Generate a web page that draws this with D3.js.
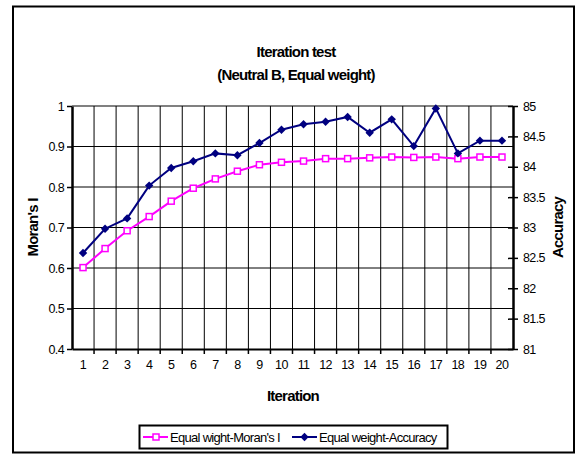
<!DOCTYPE html>
<html lang="en">
<head>
<meta charset="utf-8">
<title>Iteration test</title>
<script src="https://d3js.org/d3.v7.min.js"></script>
<style>
    body { margin: 0; padding: 0; background: white; }
    svg { display: block; font-family: "Liberation Sans", Arial, sans-serif; }
    .ttl { font-weight: bold; font-size: 15px; letter-spacing: -0.8px; }
    .tick-lbl { font-size: 12.5px; letter-spacing: -0.6px; }
</style>
</head>
<body>
<div id="chart"></div>
<script>
const iterations = [1, 2, 3, 4, 5, 6, 7, 8, 9, 10, 11, 12, 13, 14, 15, 16, 17, 18, 19, 20];
const moransI = [0.601, 0.648, 0.692, 0.727, 0.765, 0.797, 0.820, 0.839, 0.855, 0.861,
                 0.864, 0.870, 0.870, 0.872, 0.874, 0.873, 0.874, 0.870, 0.874, 0.874];
const accuracy = [82.58, 82.98, 83.15, 83.69, 83.98, 84.09, 84.22, 84.19, 84.39, 84.61,
                  84.70, 84.74, 84.82, 84.56, 84.78, 84.34, 84.96, 84.22, 84.43, 84.43];
const leftTicks = [0.4, 0.5, 0.6, 0.7, 0.8, 0.9, 1];
const rightTicks = [81, 81.5, 82, 82.5, 83, 83.5, 84, 84.5, 85];

const w = 578, h = 456;
const pLeft = 72, pRight = 513, pTop = 106, pBottom = 349;

const svg = d3.select("#chart").append("svg")
    .attr("width", w)
    .attr("height", h);

// outer frame
svg.append("rect")
    .attr("x", 13).attr("y", 6.5)
    .attr("width", 561).attr("height", 446)
    .attr("fill", "white").attr("stroke", "black").attr("stroke-width", 2);

const x = d3.scaleBand().domain(iterations).range([pLeft, pRight]);
const yL = d3.scaleLinear().domain([0.4, 1]).range([pBottom, pTop]);
const yR = d3.scaleLinear().domain([81, 85]).range([pBottom, pTop]);

// gridlines
svg.append("g").selectAll("line")
    .data(leftTicks.slice(1, -1))
    .enter().append("line")
    .attr("x1", pLeft).attr("x2", pRight)
    .attr("y1", d => yL(d)).attr("y2", d => yL(d))
    .attr("stroke", "black").attr("stroke-width", 1);

svg.append("line")
    .attr("x1", pLeft).attr("x2", pRight)
    .attr("y1", pTop).attr("y2", pTop)
    .attr("stroke", "#808080").attr("stroke-width", 2);

svg.append("g").selectAll("line")
    .data(iterations.slice(1))
    .enter().append("line")
    .attr("x1", d => x(d)).attr("x2", d => x(d))
    .attr("y1", pTop).attr("y2", pBottom)
    .attr("stroke", "black").attr("stroke-width", 1);

// axes
const xAxis = svg.append("g")
    .attr("transform", `translate(0,${pBottom})`)
    .call(d3.axisBottom(x).tickSize(0).tickPadding(11));
xAxis.select(".domain").attr("stroke-width", 2);
xAxis.selectAll("text").attr("class", "tick-lbl").attr("fill", "black");
xAxis.append("g").selectAll("line")
    .data(iterations.slice(1))
    .enter().append("line")
    .attr("x1", d => x(d)).attr("x2", d => x(d))
    .attr("y1", 0).attr("y2", 5)
    .attr("stroke", "black").attr("stroke-width", 1.5);

const yAxisL = svg.append("g")
    .attr("transform", `translate(${pLeft},0)`)
    .call(d3.axisLeft(yL).tickValues(leftTicks).tickSize(5).tickSizeOuter(0).tickFormat(d3.format("")));
yAxisL.select(".domain").attr("stroke-width", 2.5);
yAxisL.selectAll(".tick line").attr("stroke-width", 1.5);
yAxisL.selectAll("text").attr("class", "tick-lbl").attr("fill", "black").attr("x", -8);

const yAxisR = svg.append("g")
    .attr("transform", `translate(${pRight},0)`)
    .call(d3.axisRight(yR).tickValues(rightTicks).tickSize(5).tickSizeOuter(0).tickFormat(d3.format("")));
yAxisR.select(".domain").attr("stroke-width", 2.5);
yAxisR.selectAll(".tick line").attr("x1", -5).attr("stroke-width", 1.5);
yAxisR.selectAll("text").attr("class", "tick-lbl").attr("fill", "black").attr("x", 10);

// series
const cx = d => x(d) + x.bandwidth() / 2;

svg.append("path")
    .datum(iterations)
    .attr("fill", "none").attr("stroke", "#ff00ff").attr("stroke-width", 2)
    .attr("d", d3.line().x(cx).y((d, i) => yL(moransI[i])));

svg.append("g").selectAll("rect")
    .data(iterations)
    .enter().append("rect")
    .attr("x", d => cx(d) - 3).attr("y", (d, i) => yL(moransI[i]) - 3)
    .attr("width", 6).attr("height", 6)
    .attr("fill", "white").attr("stroke", "#ff00ff").attr("stroke-width", 1.5);

svg.append("path")
    .datum(iterations)
    .attr("fill", "none").attr("stroke", "#000080").attr("stroke-width", 2)
    .attr("d", d3.line().x(cx).y((d, i) => yR(accuracy[i])));

const diamond = d3.symbol().type(d3.symbolDiamond2).size(45);
svg.append("g").selectAll("path")
    .data(iterations)
    .enter().append("path")
    .attr("transform", (d, i) => `translate(${cx(d)},${yR(accuracy[i])})`)
    .attr("d", diamond)
    .attr("fill", "#000080");

// titles
svg.append("text").attr("class", "ttl")
    .attr("x", 296).attr("y", 57).attr("text-anchor", "middle")
    .text("Iteration test");
svg.append("text").attr("class", "ttl")
    .attr("x", 296).attr("y", 80).attr("text-anchor", "middle")
    .text("(Neutral B, Equal weight)");
svg.append("text").attr("class", "ttl")
    .attr("font-size", 13)
    .attr("x", 293).attr("y", 401).attr("text-anchor", "middle")
    .text("Iteration");
svg.append("text").attr("class", "ttl")
    .attr("font-size", 13)
    .attr("transform", `translate(38,${(pTop + pBottom) / 2}) rotate(-90)`)
    .attr("text-anchor", "middle")
    .text("Moran's I");
svg.append("text").attr("class", "ttl")
    .attr("font-size", 13)
    .attr("transform", `translate(563,${(pTop + pBottom) / 2}) rotate(-90)`)
    .attr("text-anchor", "middle")
    .text("Accuracy");

// legend
const legend = svg.append("g").attr("transform", "translate(139,425)");
legend.append("rect")
    .attr("x", 0.5).attr("y", 0.5).attr("width", 308).attr("height", 23)
    .attr("fill", "white").attr("stroke", "black").attr("stroke-width", 2);

const items = [
    { label: "Equal wight-Moran's I", color: "#ff00ff", x: 4, sq: true },
    { label: "Equal weight-Accuracy", color: "#000080", x: 153, sq: false }
];
items.forEach(it => {
    const g = legend.append("g").attr("transform", `translate(${it.x},12)`);
    g.append("line").attr("x1", 0).attr("x2", 25).attr("stroke", it.color).attr("stroke-width", 2);
    if (it.sq) {
        g.append("rect").attr("x", 10).attr("y", -3).attr("width", 6).attr("height", 6)
            .attr("fill", "white").attr("stroke", it.color).attr("stroke-width", 1.5);
    } else {
        g.append("path").attr("transform", "translate(12.5,0)").attr("d", diamond).attr("fill", it.color);
    }
    g.append("text").attr("x", 27).attr("y", 4.5)
        .attr("font-size", 13).attr("letter-spacing", "-0.7px")
        .text(it.label);
});
</script>
</body>
</html>
